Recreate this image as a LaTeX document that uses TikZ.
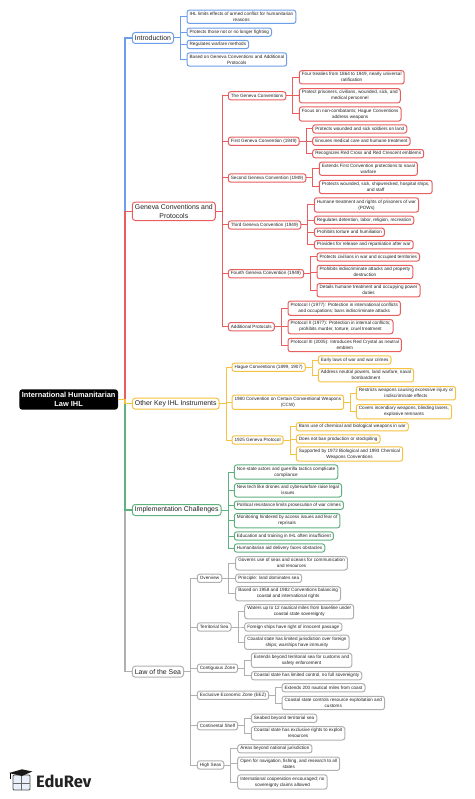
\documentclass[tikz,border=0pt]{standalone}
\usepackage{fontspec}
\setmainfont{Liberation Sans}
\newfontfamily\logofont{Fira Sans}
\usepackage{xcolor}
\usepackage{tikz}
\definecolor{ihlblue}{HTML}{6D9EEB}
\definecolor{ihlred}{HTML}{E85D5D}
\definecolor{ihlyellow}{HTML}{F5C242}
\definecolor{ihlgreen}{HTML}{5FB27D}
\definecolor{ihlgrey}{HTML}{B0B0B0}
\definecolor{ihltext}{HTML}{222222}

% #1 parent, #2 colour, #3 left edge, #4 list of y/text
\newcommand{\branchleaves}[4]{%
  \foreach \yy/\txt [count=\k] in {#4} {
    \node[leafbox, draw=#2] (#1-\k) at (#3,\yy) {\txt};
    \draw[thinlink, #2] (#1.east) -- ++(7,0) |- (#1-\k.west);
  }
}

\begin{document}
\begin{tikzpicture}[
  x=1pt, y=-1pt,
  leafbox/.style={anchor=west, fill=white, line width=1pt, rounded corners=2.5pt,
    align=center, outer sep=0pt, inner xsep=2.6pt, inner ysep=2pt, minimum height=8.3pt,
    text=ihltext, font=\fontsize{4.62}{6}\selectfont},
  topicbox/.style={anchor=west, fill=white, line width=1pt, rounded corners=3pt,
    align=center, outer sep=0pt, inner xsep=2.6pt, inner ysep=2.2pt, minimum height=11pt,
    text=ihltext, font=\fontsize{6.9}{9}\selectfont},
  thinlink/.style={line width=1pt},
  mainlink/.style={line width=1.4pt},
]
\useasboundingbox (0,0) rectangle (474,799);

% --- Root and the five topics
\node[fill=black, text=white, rounded corners=3pt, align=center, outer sep=0pt, anchor=west,
  minimum height=20.4pt, minimum width=98.7pt, inner sep=1pt,
  font=\fontsize{7.4}{9}\selectfont\bfseries] (root) at (19.3,399.5)
  {International Humanitarian\\Law IHL};

\node[topicbox, draw=ihlblue] (intro) at (132.3,38) {Introduction};
\node[topicbox, draw=ihlred] (geneva) at (132.3,211.3) {Geneva Conventions and\\Protocols};
\node[topicbox, draw=ihlyellow] (other) at (132.3,403.7) {Other Key IHL Instruments};
\node[topicbox, draw=ihlgreen] (impl) at (132.3,510) {Implementation Challenges};
\node[topicbox, draw=ihlgrey] (sea) at (132.3,671.7) {Law of the Sea};

% later trunks lie over earlier ones
\foreach \kid/\col in {intro/ihlblue, geneva/ihlred, sea/ihlgrey, impl/ihlgreen, other/ihlyellow} {
  \draw[mainlink, \col] (root.east) -- ++(7,0) |- (\kid.west);
}

% --- Introduction
\branchleaves{intro}{ihlblue}{187}{%
  16.8/{IHL limits effects of armed conflict for humanitarian\\reasons},
  32.2/{Protects those not or no longer fighting},
  44.5/{Regulates warfare methods},
  59.5/{Based on Geneva Conventions and Additional\\Protocols}}

% --- Geneva Conventions and Protocols
\foreach \nm/\yy/\txt in {gc/95.8/{The Geneva Conventions}, gcone/141.3/{First Geneva Convention (1949)},
  gctwo/178/{Second Geneva Convention (1949)}, gcthree/225/{Third Geneva Convention (1949)},
  gcfour/273.7/{Fourth Geneva Convention (1949)}, gcadd/326.7/{Additional Protocols}} {
  \node[leafbox, draw=ihlred] (\nm) at (228.3,\yy) {\txt};
  \draw[thinlink, ihlred] (geneva.east) -- ++(7,0) |- (\nm.west);
}
\branchleaves{gc}{ihlred}{299.3}{%
  77.3/{Four treaties from 1864 to 1949, nearly universal\\ratification},
  95.7/{Protect prisoners, civilians, wounded, sick, and\\medical personnel},
  114/{Focus on non-combatants; Hague Conventions\\address weapons}}
\branchleaves{gcone}{ihlred}{312.7}{%
  129/{Protects wounded and sick soldiers on land},
  141.3/{Ensures medical care and humane treatment},
  153.7/{Recognizes Red Cross and Red Crescent emblems}}
\branchleaves{gctwo}{ihlred}{319.3}{%
  168.7/{Extends First Convention protections to naval\\warfare},
  187/{Protects wounded, sick, shipwrecked, hospital ships,\\and staff}}
\branchleaves{gcthree}{ihlred}{314.3}{%
  205/{Humane treatment and rights of prisoners of war\\(POWs)},
  220.3/{Regulates detention, labor, religion, recreation},
  232.3/{Prohibits torture and humiliation},
  244.7/{Provides for release and repatriation after war}}
\branchleaves{gcfour}{ihlred}{317}{%
  257/{Protects civilians in war and occupied territories},
  272/{Prohibits indiscriminate attacks and property\\destruction},
  290.3/{Details humane treatment and occupying power\\duties}}
\branchleaves{gcadd}{ihlred}{288}{%
  308.3/{Protocol I (1977): Protection in international conflicts\\and occupations; bans indiscriminate attacks},
  326.7/{Protocol II (1977): Protection in internal conflicts;\\prohibits murder, torture, cruel treatment},
  345/{Protocol III (2005): Introduces Red Crystal as neutral\\emblem}}

% --- Other Key IHL Instruments
\foreach \nm/\yy/\txt in {hague/367.3/{Hague Conventions (1899, 1907)},
  ccw/402.3/{1980 Convention on Certain Conventional Weapons\\(CCW)}, gasp/440/{1925 Geneva Protocol}} {
  \node[leafbox, draw=ihlyellow] (\nm) at (232,\yy) {\txt};
  \draw[thinlink, ihlyellow] (other.east) -- ++(7,0) |- (\nm.west);
}
\branchleaves{hague}{ihlyellow}{318.3}{%
  360/{Early laws of war and war crimes},
  375.3/{Address neutral powers, land warfare, naval\\bombardment}}
\branchleaves{ccw}{ihlyellow}{356.3}{%
  393.3/{Restricts weapons causing excessive injury or\\indiscriminate effects},
  411.7/{Covers incendiary weapons, blinding lasers,\\explosive remnants}}
\branchleaves{gasp}{ihlyellow}{296.3}{%
  426.7/{Bans use of chemical and biological weapons in war},
  439/{Does not ban production or stockpiling},
  454/{Supported by 1972 Biological and 1993 Chemical\\Weapons Conventions}}

% --- Implementation Challenges
\branchleaves{impl}{ihlgreen}{234.3}{%
  472/{Non-state actors and guerrilla tactics complicate\\compliance},
  490.3/{New tech like drones and cyberwarfare raise legal\\issues},
  505.3/{Political resistance limits prosecution of war crimes},
  520.7/{Monitoring hindered by access issues and fear of\\reprisals},
  536/{Education and training in IHL often insufficient},
  548/{Humanitarian aid delivery faces obstacles}}

% --- Law of the Sea
\foreach \nm/\yy/\txt in {over/578.3/{Overview}, terr/627/{Territorial Sea}, cont/668.3/{Contiguous Zone},
  eez/695.3/{Exclusive Economic Zone (EEZ)}, shelf/725.7/{Continental Shelf}, high/765/{High Seas}} {
  \node[leafbox, draw=ihlgrey] (\nm) at (197.3,\yy) {\txt};
  \draw[thinlink, ihlgrey] (sea.east) -- ++(7,0) |- (\nm.west);
}
\branchleaves{over}{ihlgrey}{235.7}{%
  563.3/{Governs use of seas and oceans for communication\\and resources},
  578.3/{Principle: land dominates sea},
  593.7/{Based on 1958 and 1982 Conventions balancing\\coastal and international rights}}
\branchleaves{terr}{ihlgrey}{244.7}{%
  611.7/{Waters up to 12 nautical miles from baseline under\\coastal state sovereignty},
  627/{Foreign ships have right of innocent passage},
  642.3/{Coastal state has limited jurisdiction over foreign\\ships; warships have immunity}}
\branchleaves{cont}{ihlgrey}{251.3}{%
  660.3/{Extends beyond territorial sea for customs and\\safety enforcement},
  675.7/{Coastal state has limited control, no full sovereignty}}
\branchleaves{eez}{ihlgrey}{282}{%
  687.7/{Extends 200 nautical miles from coast},
  703/{Coastal state controls resource exploitation and\\customs}}
\branchleaves{shelf}{ihlgrey}{251.3}{%
  718.3/{Seabed beyond territorial sea},
  733.3/{Coastal state has exclusive rights to exploit\\resources}}
\branchleaves{high}{ihlgrey}{237.7}{%
  748.7/{Areas beyond national jurisdiction},
  763.7/{Open for navigation, fishing, and research to all\\states},
  782/{International cooperation encouraged; no\\sovereignty claims allowed}}

% --- Logo
\fill[white!85!ihlblue, draw=black!70, line width=0.8pt, rounded corners=1pt] (13,775) rectangle (30,790);
\draw[black!60, line width=0.6pt] (13,783) -- (30,783) (21.5,775) -- (21.5,790);
\fill[black!90] (9,773) -- (22,769.3) -- (32.3,771.5) -- (22,776) -- cycle;
\draw[black, line width=0.5pt] (10.5,773) -- (10.5,779);
\node[anchor=base west, inner sep=0pt, text=ihltext, font=\logofont\fontsize{16.5}{16.5}\selectfont\bfseries] (logo) at (36,787.3) {EduRev};
\end{tikzpicture}
\end{document}
